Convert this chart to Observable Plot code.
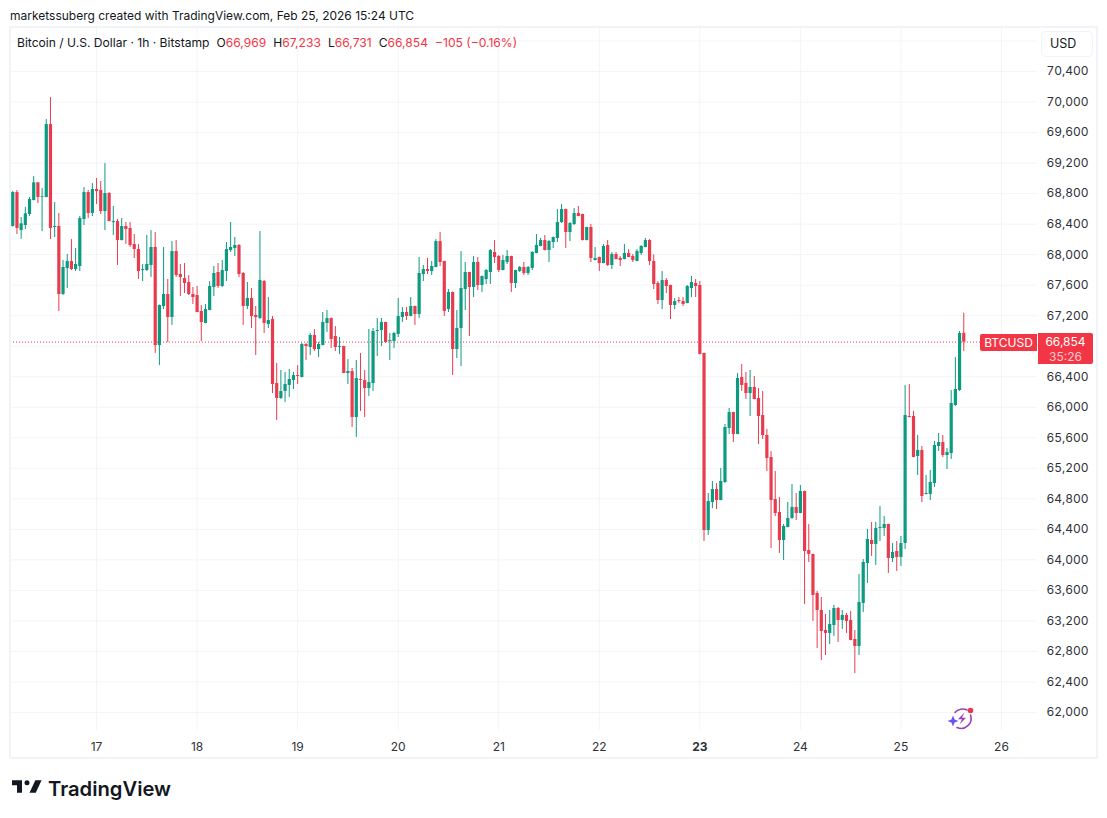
<!DOCTYPE html>
<html><head><meta charset="utf-8">
<script src="https://cdn.jsdelivr.net/npm/d3@7"></script>
<script src="https://cdn.jsdelivr.net/npm/@observablehq/plot@0.6"></script>
<style>
html,body{margin:0;padding:0;background:#fff;width:1107px;height:818px;overflow:hidden;font-family:Inter,"Noto Sans",sans-serif;color:#131722}
#page{position:relative;width:1107px;height:818px}
#credit{position:absolute;left:10px;top:8px;font-size:12px;line-height:15px;white-space:nowrap}
#chart{position:absolute;left:10px;top:27px}
#chart svg{display:block;outline:2px solid #f0f3f8;outline-offset:-1px}
#legend{position:absolute;left:17px;top:35px;font-size:12.1px;line-height:15px;white-space:nowrap}
#legend b{font-weight:400;margin-left:7px}
#legend span{color:#f23645}
#usd{position:absolute;left:1041px;top:31px;width:52px;height:26px;box-sizing:border-box;border:1px solid #f0f3f8;border-radius:5px;font-size:12.5px;line-height:24px;padding-left:8px;background:#fff}
.tag{position:absolute;background:#f23645;color:#fff;text-align:center;font-size:12px}
#tagName{left:980px;top:334px;width:57px;height:17px;line-height:17px;border-radius:2px 0 0 2px}
#tagBack{left:1038px;top:333px;width:55px;height:31px;border-radius:0 2px 2px 0}
.tagText{position:absolute;left:1038px;width:55px;text-align:center;font-size:12px;height:15px;line-height:15px;color:#fff}
#tagPrice{top:334px}
#tagTime{top:349px;color:#fbc9ce}
#logoText{position:absolute;left:48px;top:775px;font-size:20.2px;line-height:27px;font-weight:600;color:#131722}
</style></head><body>
<div id="page">
<div id="credit">marketssuberg created with TradingView.com, Feb 25, 2026 15:24 UTC</div>
<div id="chart"></div>
<div id="legend">Bitcoin / U.S. Dollar · 1h · Bitstamp<b>O</b><span>66,969</span><b>H</b><span>67,233</span><b>L</b><span>66,731</span><b>C</b><span>66,854</span><span style="margin-left:7px">−105 (−0.16%)</span></div>
<div id="usd">USD</div>
<div class="tag" id="tagName">BTCUSD</div>
<div class="tag" id="tagBack"></div>
<div class="tagText" id="tagPrice">66,854</div>
<div class="tagText" id="tagTime">35:26</div>
<svg style="position:absolute;left:946px;top:704px" width="30" height="28" viewBox="0 0 30 28" fill="none">
<path d="M9 8.5A10 10 0 0 1 21 6M24.5 11A10 10 0 0 1 11 23.5" stroke="#9c3fb8" stroke-width="1.6" stroke-linecap="round"/>
<path d="M18.5 8.5L12 15.2h4L13.5 20.5 20 13.8h-4z" fill="#a33dbf"/>
<circle cx="24.5" cy="6.5" r="2.8" fill="#e8384f"/>
<path d="M7 11.5L8.6 15.4 12.5 17 8.6 18.6 7 22.5 5.4 18.6 1.5 17 5.4 15.4z" fill="#6e4ff6"/>
</svg>
<svg style="position:absolute;left:12px;top:775px" width="30" height="24" viewBox="0 0 36 28" fill="#131722"><path d="M14 6H0v6h6v9h6V6h2zm14.5 15H21l7-15h7.5l-7 15zM21 9a3 3 0 1 1-6 0 3 3 0 0 1 6 0z"/></svg>
<div id="logoText">TradingView</div>
</div>
<script>
const openPrices = [
68369,68814,68316,68382,68526,68710,68941,68749,68749,69705,
68356,68369,67478,67818,67910,67805,67845,68461,68814,68539,
68854,68841,68565,68801,68421,68434,68185,68369,68343,68133,
68067,67792,67792,67858,68094,66809,67320,67478,67176,68041,
67740,67687,67635,67478,67465,67255,67098,67268,67570,67766,
67583,67779,68054,68081,68120,67753,67321,67425,67203,67163,
67648,67085,67150,66311,66115,66207,66285,66351,66416,66390,
66823,66783,66941,66757,66809,67098,67163,66927,66783,66796,
66443,66469,65866,66364,66351,66246,66311,66993,67006,67111,
66862,66862,66954,67176,67242,67190,67321,67216,67740,67805,
67779,67832,68172,67910,67281,67504,66757,67032,67543,67766,
67570,67897,67596,67674,67766,68028,67976,67792,67897,67976,
67622,67779,67832,67753,67819,68015,68107,68185,68054,68159,
68212,68421,68592,68290,68395,68539,68526,68185,68356,67923,
67963,67884,68120,67858,68002,67950,67936,68015,67976,67910,
68015,68094,68185,67910,67622,67399,67661,67596,67334,67399,
67386,67360,67556,67622,67596,66705,64385,64752,64922,64778,
65014,65722,65931,65643,66390,66311,66180,66259,66115,65892,
65630,65342,64791,64621,64254,64425,64543,64687,64608,64896,
64123,64071,63560,63337,63075,63036,63140,63363,63206,63272,
63206,62957,62865,63429,63953,64254,64202,64412,64412,64464,
64018,64110,64032,64215,65879,65879,65355,65434,64857,64857,
65001,65486,65538,65368,65394,66023,66220,66969];
const closePrices = [
68814,68343,68404,68535,68723,68941,68749,68758,69705,68343,
68369,67478,67832,67910,67805,67871,68474,68814,68539,68854,
68827,68565,68801,68434,68434,68185,68369,68330,68120,68067,
67779,67805,67871,68094,66809,67334,67478,67176,68041,67727,
67701,67622,67478,67438,67242,67111,67281,67583,67753,67583,
67792,68067,68094,68120,67740,67321,67425,67189,67176,67661,
67098,67137,66298,66115,66207,66298,66364,66416,66403,66823,
66796,66941,66757,66823,67111,67163,66888,66783,66796,66443,
66469,65866,66377,66351,66246,66325,66993,67006,67111,66849,
66875,66967,67189,67242,67190,67321,67216,67753,67805,67779,
67845,68172,67897,67255,67504,66757,67032,67556,67766,67570,
67897,67596,67714,67792,68054,67963,67792,67923,67976,67622,
67792,67832,67753,67832,68028,68120,68185,68054,68172,68225,
68421,68592,68290,68408,68539,68500,68185,68356,67950,67950,
67884,68107,67858,68002,67936,67923,68015,67963,67923,68041,
68107,68185,67910,67609,67399,67661,67583,67334,67386,67386,
67347,67583,67635,67583,66692,64385,64765,64922,64778,65027,
65735,65931,65643,66377,66285,66180,66259,66102,65879,65630,
65329,64778,64608,64254,64438,64543,64687,64608,64896,64110,
64071,63534,63337,63062,63036,63154,63363,63206,63272,63193,
62944,62865,63442,63966,64267,64202,64412,64425,64464,64018,
64097,64032,64215,65892,65866,65342,65434,64831,64870,65014,
65499,65538,65368,65407,66050,66233,66967,66854];
const highPrices = [
68827,68841,68487,68618,68749,69024,68945,68867,69771,70059,
68683,68539,67923,68002,68198,68081,68500,68880,68841,68932,
68998,68959,69194,68814,68631,68461,68474,68421,68421,68264,
68133,67871,68251,68316,68290,67340,68094,67674,68172,68185,
67871,67884,67727,67570,67583,67334,67347,67648,67845,67884,
67923,68159,68421,68225,68133,67766,67635,67556,67321,68303,
67661,67438,67189,66574,66482,66456,66495,66456,66547,66836,
66836,66967,67019,66849,67242,67268,67170,67058,66914,66800,
66626,66508,66613,66705,66482,67019,67032,67163,67163,67115,
66967,66980,67425,67307,67307,67438,67325,67963,67858,67950,
67910,68198,68290,67915,67543,67510,67268,68041,67897,67770,
67976,67963,67720,67805,68067,68185,67989,67989,68054,67980,
67796,67845,67897,67845,68041,68264,68212,68251,68185,68230,
68592,68657,68596,68421,68605,68631,68530,68360,68395,68094,
67967,68133,68185,68028,68028,67976,68133,68067,68002,68067,
68120,68212,68198,67998,67648,67779,67687,67600,67425,67438,
67438,67596,67714,67674,67648,66710,64870,65027,65001,65198,
65774,65984,65935,66443,66560,66456,66482,66403,66246,66207,
65709,65420,65158,64818,64464,64752,64988,64870,64975,64900,
64464,64075,63586,63507,63285,63337,63403,63376,63337,63298,
63324,63075,63809,64005,64398,64490,64490,64700,64569,64468,
64215,64241,64307,66285,66298,65945,65630,65486,65106,65172,
65552,65656,65630,65460,66220,66652,66993,67233];
const lowPrices = [
68360,68264,68203,68330,68500,68705,68670,68303,68745,68198,
68225,67255,67465,67556,67792,67779,67779,68382,68474,68500,
68657,68526,68316,68430,68251,67858,68180,68133,68094,67950,
67674,67648,67779,67701,66705,66547,67281,66849,67072,67701,
67452,67491,67465,67347,67240,66862,67095,67265,67452,67556,
67570,67648,68028,67976,67701,67072,67281,67032,66678,67150,
66967,67032,66180,65827,66102,66063,66128,66233,66298,66385,
66613,66678,66731,66652,66805,66980,66770,66731,66692,66440,
66298,65735,65604,65945,65866,66141,66207,66665,66796,66836,
66613,66770,66914,67111,67137,67185,67072,67163,67648,67740,
67727,67828,67845,67190,67242,66416,66639,66534,67268,66927,
67438,67530,67504,67609,67609,67884,67766,67788,67871,67504,
67556,67766,67727,67727,67792,68010,68103,68050,67897,68081,
68159,68408,68081,68172,68382,68496,68180,68180,67897,67918,
67779,67880,67845,67805,67932,67845,67932,67960,67897,67906,
67989,68090,67858,67543,67347,67281,67491,67150,67281,67360,
67321,67356,67438,67438,66688,64241,64320,64673,64660,64774,
65001,65643,65538,65640,66207,66102,65879,66098,65512,65578,
65158,64149,64569,64084,63992,64420,64530,64516,64604,63416,
63966,63193,62839,62682,62747,62891,62996,62918,63088,63036,
62940,62511,62747,63311,63691,64045,63927,64241,64307,63822,
63966,63848,63914,64136,65860,65338,65106,64752,64853,64778,
64949,65421,65342,65185,65316,66010,66207,66731];
const priceTicks = [62000,62400,62800,63200,63600,64000,64400,64800,65200,65600,66000,66400,67200,67600,68000,68400,68800,69200,69600,70000,70400];
const extraGrid = [66800,70800];
const dayTicks = [17,18,19,20,21,22,23,24,25,26];
const boldDay = 23;
const lastPrice = 66854;
const firstHour = Date.UTC(2026,1,16,4);
const GREEN = "#0c9a80", RED = "#e93b4e", LINE_RED = "#f23645", GRID = "#f3f4f8";

const candles = openPrices.map((o,i)=>({
  t:new Date(firstHour+i*3600e3), o, h:highPrices[i], l:lowPrices[i], c:closePrices[i],
  color: closePrices[i]>=o ? GREEN : RED
}));
const day = d => new Date(Date.UTC(2026,1,d));
const plain = dayTicks.filter(d=>d!==boldDay);

const plot = Plot.plot({
  width:1087, height:731,
  marginLeft:0, marginRight:60, marginTop:0, marginBottom:28,
  style:{fontFamily:"Inter, 'Noto Sans', sans-serif", background:"#fff", overflow:"visible"},
  x:{type:"utc", axis:null, domain:[new Date(firstHour-0.54*3600e3), new Date(Date.UTC(2026,1,17)+224.6*3600e3)]},
  y:{domain:[61764,70977]},
  marks:[
    Plot.ruleY([...priceTicks,...extraGrid],{stroke:GRID,strokeWidth:1}),
    Plot.ruleX(dayTicks.map(day),{stroke:GRID,strokeWidth:1}),
    Plot.axisY(priceTicks,{anchor:"right",tickSize:0,tickPadding:9,label:null,tickFormat:d3.format(","),fontSize:12,fill:"#2e3238",textAnchor:"start"}),
    Plot.text(plain,{x:day,frameAnchor:"bottom",dy:20,text:d=>String(d),fontSize:12,fill:"#2e3238"}),
    Plot.text([boldDay],{x:day,frameAnchor:"bottom",dy:20,text:d=>String(d),fontSize:12,fontWeight:700,fill:"#2e3238"}),
    Plot.ruleY([lastPrice],{stroke:LINE_RED,strokeWidth:1,strokeDasharray:"1 2"}),
    Plot.ruleX(candles,{x:"t",y1:"l",y2:"h",stroke:"color",strokeWidth:1}),
    Plot.ruleX(candles,{x:"t",y1:"o",y2:"c",stroke:"color",strokeWidth:3.2,strokeLinecap:"butt"})
  ]
});
document.getElementById("chart").appendChild(plot);
</script>
</body></html>
